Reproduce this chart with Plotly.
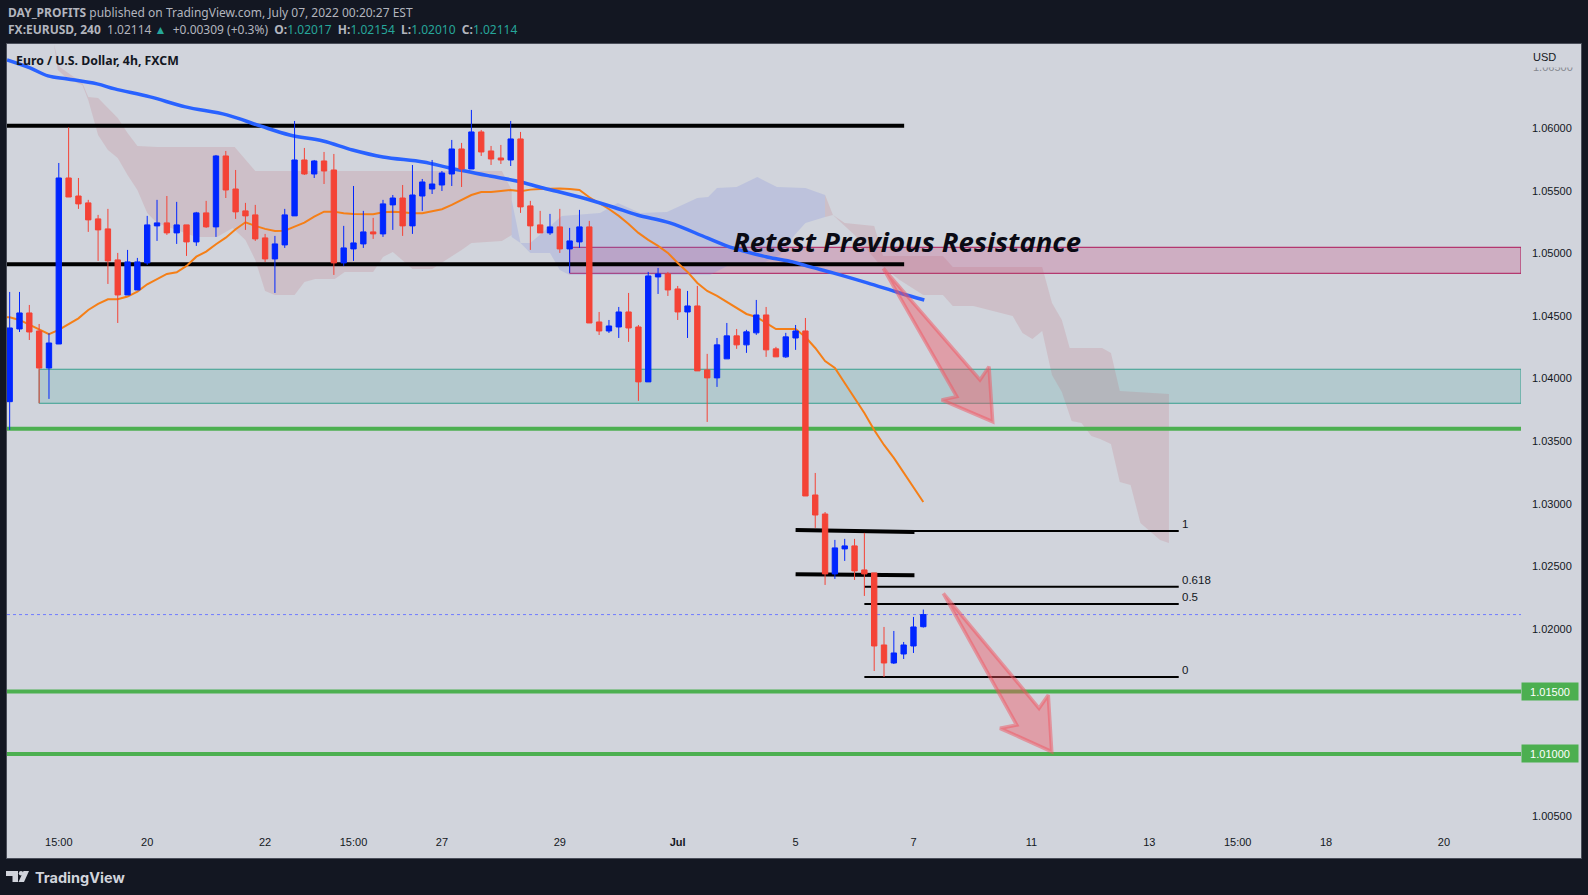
import plotly.graph_objects as go

opens = [1.03816,1.04397,1.04525,1.04381,1.04085,1.04277,1.05604,1.05460,1.05405,1.05277,1.05197,1.04949,1.04669,1.04709,1.04925,1.05221,1.05245,1.05165,1.05229,1.05093,
         1.05325,1.05213,1.05780,1.05516,1.05341,1.05309,1.05125,1.04957,1.05069,1.05301,1.05748,1.05636,1.05740,1.05668,1.04925,1.05037,1.05077,1.05173,1.05157,1.05389,
         1.05444,1.05221,1.05460,1.05516,1.05548,1.05636,1.05836,1.05676,1.05972,1.05820,1.05764,1.05748,1.05916,1.05381,1.05229,1.05165,1.05213,1.05037,1.05093,1.05213,
         1.04453,1.04381,1.04413,1.04533,1.04413,1.03974,1.04813,1.04837,1.04717,1.04533,1.04581,1.04070,1.04006,1.04158,1.04342,1.04270,1.04366,1.04509,1.04238,1.04174,
         1.04325,1.04381,1.03070,1.02918,1.02439,1.02639,1.02663,1.02471,1.02447,1.01871,1.01727,1.01799,1.01863,1.02017]
highs = [1.04693,1.04693,1.04589,1.04437,1.04363,1.05724,1.06009,1.05604,1.05429,1.05309,1.05357,1.05005,1.05029,1.04965,1.05301,1.05429,1.05460,1.05413,1.05229,1.05333,
         1.05421,1.05788,1.05820,1.05668,1.05405,1.05389,1.05157,1.05141,1.05357,1.06060,1.05844,1.05748,1.05812,1.05796,1.05221,1.05540,1.05341,1.05285,1.05429,1.05468,
         1.05548,1.05708,1.05596,1.05748,1.05660,1.05908,1.05884,1.06148,1.05988,1.05860,1.05868,1.06060,1.05972,1.05421,1.05341,1.05317,1.05357,1.05205,1.05349,1.05261,
         1.04533,1.04469,1.04573,1.04685,1.04429,1.04853,1.04885,1.04853,1.04741,1.04701,1.04741,1.04198,1.04325,1.04445,1.04397,1.04390,1.04629,1.04573,1.04254,1.04366,
         1.04429,1.04485,1.03246,1.02934,1.02711,1.02719,1.02719,1.02767,1.02447,1.02015,1.01983,1.01895,1.02095,1.02154]
lows = [1.03590,1.04373,1.04309,1.03803,1.03838,1.04277,1.05452,1.05357,1.05173,1.04941,1.04757,1.04445,1.04669,1.04709,1.04909,1.05101,1.05149,1.05077,1.04981,1.05061,
        1.05205,1.05133,1.05444,1.05277,1.05189,1.05101,1.04933,1.04685,1.05045,1.05301,1.05628,1.05604,1.05556,1.04829,1.04901,1.04941,1.05045,1.05117,1.05133,1.05189,
        1.05141,1.05157,1.05341,1.05476,1.05500,1.05540,1.05532,1.05676,1.05780,1.05708,1.05716,1.05700,1.05325,1.05029,1.05165,1.05149,1.05005,1.04845,1.05045,1.04445,
        1.04349,1.04365,1.04325,1.04294,1.03822,1.03974,1.04677,1.04661,1.04469,1.04325,1.04062,1.03654,1.03934,1.04158,1.04238,1.04206,1.04350,1.04174,1.04174,1.04166,
        1.04230,1.03062,1.02807,1.02351,1.02399,1.02543,1.02391,1.02263,1.01663,1.01615,1.01719,1.01759,1.01807,1.02010]
closes = [1.04405,1.04525,1.04373,1.04085,1.04285,1.05604,1.05452,1.05397,1.05269,1.05189,1.04941,1.04669,1.04933,1.04933,1.05229,1.05245,1.05165,1.05229,1.05093,1.05325,
          1.05213,1.05780,1.05508,1.05333,1.05301,1.05117,1.04957,1.05077,1.05309,1.05748,1.05636,1.05740,1.05660,1.04925,1.05045,1.05085,1.05173,1.05157,1.05397,1.05444,
          1.05221,1.05468,1.05572,1.05556,1.05644,1.05836,1.05676,1.05972,1.05812,1.05756,1.05748,1.05916,1.05373,1.05221,1.05165,1.05213,1.05037,1.05101,1.05213,1.04445,
          1.04381,1.04421,1.04533,1.04405,1.03974,1.04821,1.04837,1.04709,1.04533,1.04581,1.04062,1.04006,1.04270,1.04342,1.04270,1.04374,1.04509,1.04230,1.04174,1.04334,
          1.04381,1.03062,1.02910,1.02439,1.02647,1.02663,1.02463,1.02439,1.01863,1.01727,1.01807,1.01871,1.02015,1.02114]

ema_fast = [1.04490,1.04469,1.04429,1.04389,1.04355,1.04389,1.04437,1.04482,1.04549,1.04597,1.04634,1.04634,1.04656,1.04696,1.04754,1.04794,1.04837,1.04850,1.04901,1.04975,
            1.05015,1.05074,1.05127,1.05194,1.05250,1.05221,1.05197,1.05181,1.05183,1.05215,1.05247,1.05295,1.05335,1.05335,1.05322,1.05317,1.05317,1.05314,1.05330,1.05335,
            1.05330,1.05322,1.05322,1.05335,1.05354,1.05389,1.05429,1.05468,1.05492,1.05492,1.05500,1.05508,1.05498,1.05511,1.05516,1.05519,1.05519,1.05516,1.05508,1.05450,
            1.05404,1.05356,1.05301,1.05237,1.05165,1.05109,1.05061,1.05005,1.04925,1.04853,1.04765,1.04701,1.04661,1.04613,1.04565,1.04517,1.04493,1.04445,1.04397,1.04397,
            1.04397,1.04333,1.04245,1.04141,1.04085,1.03965,1.03845,1.03726,1.03590,1.03470,1.03366,1.03246,1.03126,1.03014]

ma_slow_i = [-0.27,2.07,3.9,5.9,8.9,10.7,14.3,17.9,22.1,25.5,28.5,31.9,34.9,38,42.1,44.8,48.9,51.6,54.3,58,61.4,63.9,67.2,71,73.6,77.1,79.7,81.5,83.8,87.3,90.6,93.1]
ma_slow_p = [1.06548,1.06484,1.06420,1.06396,1.06356,1.06316,1.06252,1.06172,1.06108,1.06020,1.05948,1.05900,1.05828,1.05772,1.05732,1.05684,1.05620,1.05580,1.05524,1.05452,
             1.05372,1.05308,1.05245,1.05125,1.05045,1.04973,1.04933,1.04893,1.04845,1.04765,1.04685,1.04629]

cloud1_up_i = [4.5,5.1,6.1,7.4,8,9,10,11,12,13,15,22.9,25,50.1,51.1]
cloud1_up_p = [1.06675,1.06492,1.06436,1.06364,1.06252,1.06244,1.06164,1.06084,1.05964,1.05860,1.05852,1.05852,1.05660,1.05660,1.05508]
cloud1_lo_i = [4.5,4.9,5.9,7.4,8,9,10,11,12,13,14,15,19,21.1,22.7,24,25,26,27,29,30,31.1,33.1,34.1,37,38,39,41,43,46,47,50.1,51.1]
cloud1_lo_p = [1.06675,1.06468,1.06396,1.06348,1.06228,1.05948,1.05828,1.05764,1.05628,1.05508,1.05324,1.05245,1.05133,1.05133,1.05205,1.05109,1.04949,1.04701,1.04669,1.04669,
               1.04773,1.04797,1.04797,1.04853,1.04853,1.04973,1.05013,1.04877,1.04877,1.05029,1.05085,1.05101,1.05149]
cloud2_up_i = [51.1,52,53,54.3,55.3,56.2,60.1,61.9,64.2,66.9,68.9,70,71.1,72,74,76.1,78.1,81,83]
cloud2_up_p = [1.05428,1.05085,1.05085,1.05173,1.05245,1.05301,1.05325,1.05405,1.05325,1.05333,1.05405,1.05444,1.05452,1.05524,1.05532,1.05612,1.05532,1.05524,1.05468]
cloud2_lo_i = [51.1,52,53,55,56,57,71.3,73.6,76.7,78.4,79.9,81,83]
cloud2_lo_p = [1.05133,1.05085,1.05005,1.05005,1.04869,1.04829,1.04829,1.04925,1.04925,1.04989,1.05149,1.05245,1.05293]
cloud3_up_i = [83,83.8,85,88,88.9,95,96,105.1,106.1,107.1,107.9,111.2,112.1,113,118]
cloud3_up_p = [1.05468,1.05308,1.05245,1.05221,1.04981,1.04981,1.04893,1.04893,1.04605,1.04469,1.04245,1.04245,1.04205,1.03902,1.03878]
cloud3_lo_i = [83,83.8,86,88.6,90.6,93,95,96,98.1,102.1,103.1,104.1,105.1,106.1,107.1,108.1,109.1,110.1,111,112.1,113,114.1,115.1,117.1,118]
cloud3_lo_p = [1.05293,1.05308,1.05149,1.04909,1.04789,1.04669,1.04669,1.04581,1.04581,1.04501,1.04365,1.04317,1.04381,1.04030,1.03894,1.03662,1.03646,1.03542,1.03518,1.03478,
               1.03174,1.03150,1.02846,1.02711,1.02686]

resistance_levels = [1.06022, 1.04914]
resistance_end = 91.05
support_levels = [1.03600, 1.01500, 1.01000]
last_price = 1.02114
demand_zone = [1.03803, 1.04075]
demand_start = 3
supply_zone = [1.04842, 1.05050]
supply_start = 57
short_lines_i = [80, 92.1]
short_line_a = [1.02790, 1.02775]
short_line_b = [1.02436, 1.02428]
fib_i = [87, 119]
fib_levels = [1.02783, 1.02337, 1.02199, 1.01615]
fib_labels = ["1", "0.618", "0.5", "0"]
arrow1_i = [88.93,98.77,99.69,100.06,94.87,96.4]
arrow1_p = [1.04882,1.03990,1.04096,1.03656,1.03830,1.03856]
arrow2_i = [95.04,104.78,105.72,106.07,100.81,102.51]
arrow2_p = [1.02284,1.01365,1.01471,1.01018,1.01205,1.01231]

time_ticks = [5,14,26,35,44,56,68,80,92,104,116,125,134,146]
time_labels = ["15:00","20","22","15:00","27","29","<b>Jul</b>","5","7","11","13","15:00","18","20"]
price_ticks = [1.06,1.055,1.05,1.045,1.04,1.035,1.03,1.025,1.02,1.005]
price_labels = ["1.06000","1.05500","1.05000","1.04500","1.04000","1.03500","1.03000","1.02500","1.02000","1.00500"]

W, H = 1588, 895
L, R, T, B = 7, 1521, 44, 834
X_RANGE = [-0.272, 153.84]
Y_RANGE = [1.00360, 1.06675]
FONT = "Liberation Sans"
GREEN = "#4caf50"

def fx(px): return (px - L) / (R - L)
def fy(px): return (B - px) / (B - T)

idx = list(range(len(opens)))
fig = go.Figure()

def cloud(up_i, up_p, lo_i, lo_p, color):
    fig.add_trace(go.Scatter(x=up_i + lo_i[::-1], y=up_p + lo_p[::-1], mode="lines", fill="toself",
                             fillcolor=color, line=dict(width=0), hoverinfo="skip", showlegend=False))

RED_CLOUD = "rgba(190,90,100,0.17)"
BLUE_CLOUD = "rgba(120,130,225,0.22)"
cloud(cloud1_up_i, cloud1_up_p, cloud1_lo_i, cloud1_lo_p, RED_CLOUD)
cloud(cloud2_up_i, cloud2_up_p, cloud2_lo_i, cloud2_lo_p, BLUE_CLOUD)
cloud(cloud3_up_i, cloud3_up_p, cloud3_lo_i, cloud3_lo_p, RED_CLOUD)

def line(x, y, color, width, dash=None, shape="linear"):
    fig.add_trace(go.Scatter(x=x, y=y, mode="lines", line=dict(color=color, width=width, dash=dash, shape=shape),
                             hoverinfo="skip", showlegend=False))

line(X_RANGE, [last_price, last_price], "#6f7bff", 1, "dot")
for lv in resistance_levels:
    line([X_RANGE[0], resistance_end], [lv, lv], "#000000", 4)
for lv in support_levels:
    line(X_RANGE, [lv, lv], GREEN, 4)
for lv in fib_levels:
    line(fib_i, [lv, lv], "#000000", 2)
line(short_lines_i, short_line_a, "#000000", 4)
line(short_lines_i, short_line_b, "#000000", 4)
line([X_RANGE[0]] + idx, ema_fast[:1] + ema_fast, "#f57f17", 2)
line(ma_slow_i, ma_slow_p, "#2962ff", 3.5, shape="spline")

fig.add_trace(go.Candlestick(x=idx, open=opens, high=highs, low=lows, close=closes,
                             xaxis="x2", yaxis="y2", whiskerwidth=0,
                             increasing=dict(line=dict(color="#0026ff", width=1), fillcolor="#0026ff"),
                             decreasing=dict(line=dict(color="#f44336", width=1), fillcolor="#f44336"),
                             hoverinfo="skip", showlegend=False))

for ai, ap in ((arrow1_i, arrow1_p), (arrow2_i, arrow2_p)):
    fig.add_trace(go.Scatter(x=ai + ai[:1], y=ap + ap[:1], mode="lines", fill="toself", xaxis="x3", yaxis="y3",
                             fillcolor="rgba(242,84,96,0.42)",
                             line=dict(color="rgba(242,84,96,0.5)", width=3.5, shape="linear"),
                             hoverinfo="skip", showlegend=False))

shapes = [
    dict(type="rect", xref="paper", yref="paper", x0=fx(6.5), x1=fx(1581.5), y0=fy(858.5), y1=fy(43.5),
         fillcolor="#d1d4dc", line=dict(color="#4a4e5a", width=1), layer="below"),
    dict(type="rect", xref="x", yref="y", x0=demand_start, x1=X_RANGE[1], y0=demand_zone[0], y1=demand_zone[1],
         fillcolor="rgba(0,137,123,0.14)", line=dict(color="#37a08f", width=1), layer="below"),
    dict(type="rect", xref="x", yref="y", x0=supply_start, x1=X_RANGE[1], y0=supply_zone[0], y1=supply_zone[1],
         fillcolor="rgba(194,24,91,0.2)", line=dict(color="#ad1457", width=1), layer="below"),
    # TradingView logo mark
    dict(type="path", xref="paper", yref="paper", fillcolor="#d1d4dc", line=dict(width=0), layer="above",
         path="M {} {} L {} {} L {} {} L {} {} L {} {} L {} {} Z".format(
             fx(6), fy(871), fx(18), fy(871), fx(18), fy(882), fx(12.5), fy(882), fx(12.5), fy(876), fx(6), fy(876))),
    dict(type="circle", xref="paper", yref="paper", fillcolor="#d1d4dc", line=dict(width=0), layer="above",
         x0=fx(18.8), x1=fx(23.2), y0=fy(875.4), y1=fy(871)),
    dict(type="path", xref="paper", yref="paper", fillcolor="#d1d4dc", line=dict(width=0), layer="above",
         path="M {} {} L {} {} L {} {} L {} {} Z".format(
             fx(23.5), fy(871), fx(29), fy(871), fx(24), fy(882), fx(18.5), fy(882))),
]

def note(px, py, text, size=12, color="#000000", family="Noto Sans", anchor="left", **kw):
    return dict(xref="paper", yref="paper", x=fx(px), y=fy(py), text=text, showarrow=False, xanchor=anchor,
                yanchor="middle", align=anchor, font=dict(size=size, color=color, family=family),
                borderpad=0, **kw)

T1, TEAL = "#b2b5be", "#26a69a"
header1 = "<b>DAY_PROFITS</b> published on TradingView.com, July 07, 2022 00:20:27 EST"
header2 = ("<b>FX:EURUSD, 240</b>&nbsp; 1.02114 <span style='color:{t}'>▲</span>&nbsp; +0.00309 (+0.3%) &nbsp;"
           "<b>O:</b><span style='color:{t}'>1.02017</span>&nbsp; <b>H:</b><span style='color:{t}'>1.02154</span>&nbsp; "
           "<b>L:</b><span style='color:{t}'>1.02010</span>&nbsp; <b>C:</b><span style='color:{t}'>1.02114</span>").format(t=TEAL)

annotations = [
    note(6.5, 12.5, header1, 12, T1),
    note(6.5, 29.5, header2, 12, T1),
    note(15, 60, "<b>Euro / U.S. Dollar, 4h, FXCM</b>", 12.3, "#131722"),
    note(732, 241, "<b><i>Retest Previous Resistance</i></b>", 27.5, "#0a0a14", "Open Sans"),
    note(34, 877, "<b>TradingView</b>", 14.5, "#d1d4dc", "Inter"),
    note(1531.5, 66.5, "1.06500", 11, "#85888f", FONT),
    dict(xref="paper", yref="paper", x=fx(1531.5), y=fy(57), text="USD", showarrow=False, xanchor="left", yanchor="middle",
         font=dict(size=11, color="#131722", family=FONT), bgcolor="#d1d4dc", width=42, height=20, align="left", borderpad=0),
]
for lab, lv in zip(fib_labels, fib_levels):
    annotations.append(dict(xref="x", yref="y", x=fib_i[1], y=lv, text=lab, showarrow=False, xanchor="left", yanchor="bottom",
                            xshift=1, yshift=-1, font=dict(size=11.5, color="#131722", family=FONT)))
for lv in support_levels[1:]:
    annotations.append(dict(xref="paper", yref="y", x=fx(1521), y=lv, text="%.5f" % lv, showarrow=False, xanchor="left", yanchor="middle",
                            width=56, height=17, align="center", bgcolor=GREEN, borderpad=0,
                            font=dict(size=11, color="#ffffff", family=FONT)))

hidden = dict(visible=False, showgrid=False, zeroline=False)
fig.update_layout(
    width=W, height=H, autosize=False,
    margin=dict(l=L, r=W - R, t=T, b=H - B, pad=0),
    paper_bgcolor="#131722", plot_bgcolor="#d1d4dc",
    showlegend=False, dragmode=False, boxmode="overlay", boxgap=0.22,
    shapes=shapes, annotations=annotations,
    xaxis=dict(range=X_RANGE, tickmode="array", tickvals=time_ticks, ticktext=time_labels, showgrid=False, zeroline=False,
               showline=False, ticks="", tickfont=dict(size=11, color="#131722", family=FONT), anchor="y", fixedrange=True,
               rangeslider=dict(visible=False)),
    yaxis=dict(range=Y_RANGE, side="right", tickmode="array", tickvals=price_ticks, ticktext=price_labels, showgrid=False,
               zeroline=False, showline=False, ticks="", ticklabelstandoff=10,
               tickfont=dict(size=11, color="#131722", family=FONT), anchor="x", fixedrange=True),
    xaxis2=dict(range=X_RANGE, overlaying="x", anchor="y2", rangeslider=dict(visible=False), **hidden),
    yaxis2=dict(range=Y_RANGE, overlaying="y", anchor="x2", side="right", **hidden),
    xaxis3=dict(range=X_RANGE, overlaying="x", anchor="y3", **hidden),
    yaxis3=dict(range=Y_RANGE, overlaying="y", anchor="x3", side="right", **hidden),
)

fig.write_html("out.html", config=dict(displayModeBar=False),
               post_script="document.body.style.margin='0';document.body.style.overflow='hidden';document.body.style.background='#131722';")
